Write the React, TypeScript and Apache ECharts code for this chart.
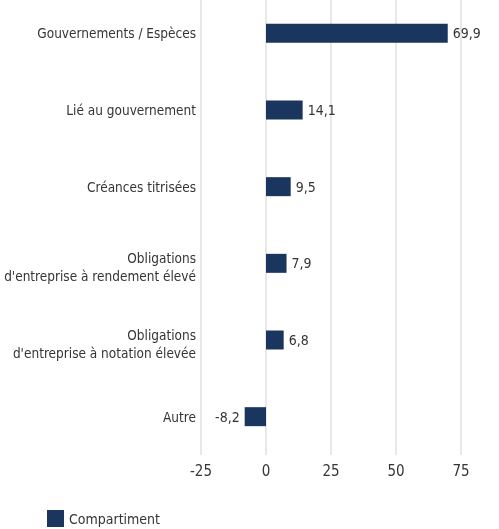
import React, { useEffect, useRef } from "react";
import * as echarts from "echarts";

const categories = [
  "Gouvernements / Espèces",
  "Lié au gouvernement",
  "Créances titrisées",
  "Obligations\nd'entreprise à rendement élevé",
  "Obligations\nd'entreprise à notation élevée",
  "Autre",
];
const values = [69.9, 14.1, 9.5, 7.9, 6.8, -8.2];
const seriesName = "Compartiment";
const xMin = -25;
const xMax = 75;
const xInterval = 25;

const FONT = '"DejaVu Sans Condensed", "Roboto", sans-serif';
const TEXT = "#353535";
const NAVY = "#1b365e";

export default function App() {
  const ref = useRef<HTMLDivElement>(null);
  useEffect(() => {
    if (!ref.current) return;
    const chart = echarts.init(ref.current, undefined, { renderer: "svg" });
    chart.setOption({
      animation: false,
      grid: {
        left: 201,
        right: 38,
        top: -5,
        bottom: 74,
        containLabel: false,
        outerBoundsMode: "none",
      },
      legend: {
        data: [seriesName],
        left: 42,
        top: 505,
        icon: "rect",
        itemWidth: 17,
        itemHeight: 17,
        itemGap: 6,
        textStyle: { fontFamily: FONT, fontSize: 14, color: TEXT },
      },
      xAxis: {
        type: "value",
        min: xMin,
        max: xMax,
        interval: xInterval,
        axisLine: { show: false },
        axisTick: { show: false },
        splitLine: { show: true, lineStyle: { color: "#e8e8e8", width: 2 } },
        axisLabel: { fontFamily: FONT, fontSize: 15, color: TEXT, margin: 8 },
      },
      yAxis: {
        type: "category",
        inverse: true,
        data: categories,
        axisLine: { show: false },
        axisTick: { show: false },
        splitLine: { show: false },
        axisLabel: {
          fontFamily: FONT,
          fontSize: 13.5,
          color: TEXT,
          margin: 5,
          lineHeight: 18,
          align: "right",
          formatter: (v: string) =>
            v.includes("\n")
              ? "{s| }\n" + v.split("\n").map((l) => "{t|" + l + "}").join("\n")
              : v,
          rich: {
            s: { fontSize: 1, lineHeight: 8 },
            t: {
              fontFamily: FONT,
              fontSize: 13.5,
              color: TEXT,
              lineHeight: 18,
              align: "right",
            },
          },
        },
      },
      series: [
        {
          name: seriesName,
          type: "bar",
          barWidth: 19,
          itemStyle: { color: NAVY },
          data: values.map((v) => ({
            value: v,
            label: { position: v < 0 ? "left" : "right" },
          })),
          label: {
            show: true,
            distance: 5,
            fontFamily: FONT,
            fontSize: 14,
            color: TEXT,
            formatter: (p: any) => String(p.value).replace(".", ","),
          },
        },
      ],
    });
    return () => chart.dispose();
  }, []);
  return (
    <div
      ref={ref}
      style={{ position: "fixed", left: 0, top: 0, width: 499, height: 529 }}
    />
  );
}
